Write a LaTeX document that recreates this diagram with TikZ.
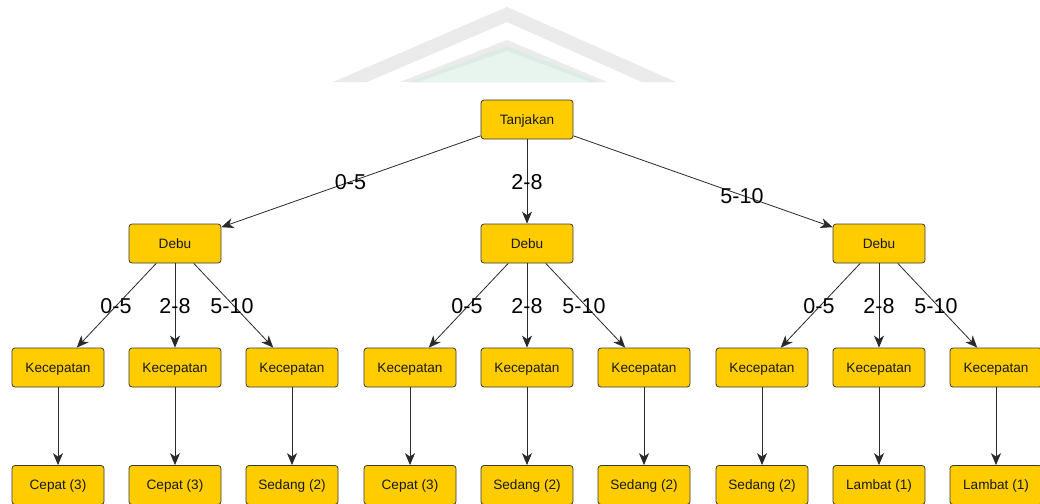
\documentclass[tikz,border=0pt]{standalone}
\usepackage{fontspec}
\setmainfont{Liberation Sans}
\usetikzlibrary{arrows.meta}
\definecolor{boxfill}{HTML}{FFCC00}
\definecolor{boxline}{HTML}{3A3A3A}
\definecolor{boxtext}{HTML}{1A1A1A}
\definecolor{edgecol}{HTML}{2A2A2A}
\definecolor{markgray}{HTML}{EBEBEB}
\definecolor{markgreen}{HTML}{DCECE2}
\definecolor{markmint}{HTML}{E8F5EF}
\tikzset{
  box/.style={rectangle, rounded corners=3pt, draw=boxline, fill=boxfill,
    line width=0.8pt, minimum width=92pt, minimum height=39pt, inner sep=0pt,
    text height=9.8pt, text depth=0pt,
    text=boxtext, font=\fontsize{13.6}{15}\selectfont},
  edge/.style={draw=edgecol, line width=0.8pt,
    -{Stealth[length=12pt,width=10pt,inset=3.5pt]}},
  lbl/.style={inner sep=0pt, text=black, font=\fontsize{21.5}{24}\selectfont}
}
\begin{document}
\begin{tikzpicture}[x=1pt,y=-1pt]
\useasboundingbox (0,0) rectangle (1040,503);
\fill[white] (0,0) rectangle (1040,503);

% faint emblem behind the top of the tree
\begin{scope}
  \clip (0,0) rectangle (1040,82);
  \fill[markgray] (333,82) -- (507,7) -- (676,82) -- (642,82) -- (507,22) -- (367,82) -- cycle;
  \fill[markgray] (400,82) -- (507,40) -- (607,82) -- cycle;
  \fill[markgreen] (409,82) -- (507,46) -- (599,82) -- cycle;
  \fill[markmint] (418,82) -- (507,51) -- (590,82) -- cycle;
\end{scope}

% root
\node[box] (t) at (527,119.5) {Tanjakan};

% second level
\node[box] (d1) at (175,243.5) {Debu};
\node[box] (d2) at (527,243.5) {Debu};
\node[box] (d3) at (879,243.5) {Debu};

% third level
\node[box] (k1) at (58,367.5) {Kecepatan};
\node[box] (k2) at (175,367.5) {Kecepatan};
\node[box] (k3) at (292,367.5) {Kecepatan};
\node[box] (k4) at (410,367.5) {Kecepatan};
\node[box] (k5) at (527,367.5) {Kecepatan};
\node[box] (k6) at (644,367.5) {Kecepatan};
\node[box] (k7) at (762,367.5) {Kecepatan};
\node[box] (k8) at (879,367.5) {Kecepatan};
\node[box] (k9) at (996,367.5) {Kecepatan};

% leaves
\node[box] (c1) at (58,485) {Cepat (3)};
\node[box] (c2) at (175,485) {Cepat (3)};
\node[box] (c3) at (292,485) {Sedang (2)};
\node[box] (c4) at (410,485) {Cepat (3)};
\node[box] (c5) at (527,485) {Sedang (2)};
\node[box] (c6) at (644,485) {Sedang (2)};
\node[box] (c7) at (762,485) {Sedang (2)};
\node[box] (c8) at (879,485) {Lambat (1)};
\node[box] (c9) at (996,485) {Lambat (1)};

% connectors
\draw[edge] (t) -- (d1);
\draw[edge] (t) -- (d2);
\draw[edge] (t) -- (d3);
\foreach \d/\a/\b/\c in {d1/k1/k2/k3, d2/k4/k5/k6, d3/k7/k8/k9}{
  \draw[edge] (\d) -- (\a);
  \draw[edge] (\d) -- (\b);
  \draw[edge] (\d) -- (\c);
}
\foreach \i in {1,...,9}{
  \draw[edge] (k\i) -- (c\i);
}

% branch labels
\node[lbl] (l1) at (350.5,182) {0-5};
\node[lbl] (l2) at (527,182) {2-8};
\node[lbl] (l3) at (742,196) {5-10};

\node[lbl] (m1) at (116,306) {0-5};
\node[lbl] (m2) at (175,306) {2-8};
\node[lbl] (m3) at (232,306) {5-10};
\node[lbl] (m4) at (467,306) {0-5};
\node[lbl] (m5) at (527,306) {2-8};
\node[lbl] (m6) at (584,306) {5-10};
\node[lbl] (m7) at (819,306) {0-5};
\node[lbl] (m8) at (879,306) {2-8};
\node[lbl] (m9) at (936,306) {5-10};
\end{tikzpicture}
\end{document}
